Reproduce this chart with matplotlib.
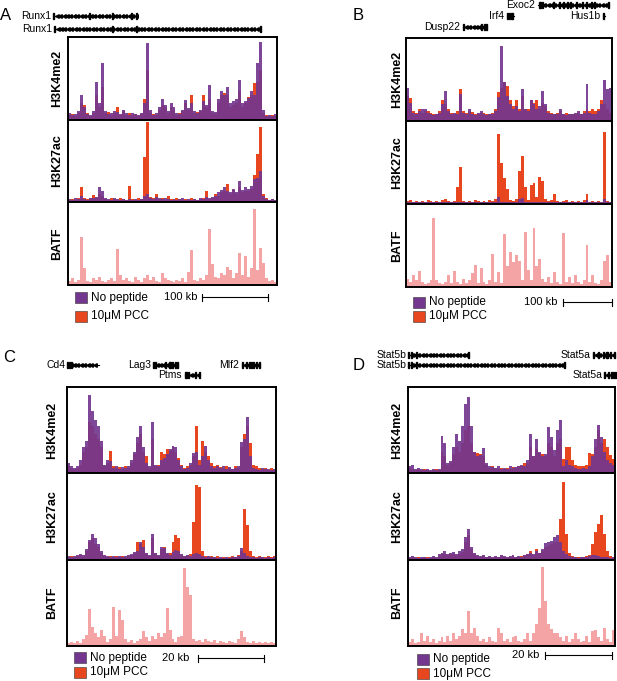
import numpy as np
import matplotlib
matplotlib.use("Agg")
import matplotlib.pyplot as plt
from matplotlib.patches import Rectangle

plt.rcParams['font.family'] = ['Liberation Sans', 'DejaVu Sans']

# ---- colores ----
MORADO = "#74378f"
ROJO = "#e8461e"
ROSA = "#f4a4a4"

# ---- datos (% de la altura de cada pista, 70 bins por region) ----
# Panel A (Runx1)
a_k4_np = [8, 6, 7, 10, 30, 15, 7, 6, 10, 45, 20, 68, 10, 7, 8, 10, 9, 7, 12, 8, 6, 8, 7, 6, 8, 20, 93, 12, 6, 8,
           15, 25, 18, 10, 20, 15, 8, 7, 12, 24, 14, 20, 10, 8, 12, 22, 18, 42, 10, 9, 25, 35, 30, 40, 20, 22, 25, 48, 20, 22,
           26, 35, 30, 68, 94, 12, 5, 6, 5, 7]
a_k4_pcc = [6, 7, 5, 8, 20, 18, 8, 5, 8, 30, 15, 40, 8, 9, 6, 8, 15, 6, 10, 6, 8, 6, 7, 5, 7, 25, 60, 8, 7, 6,
            12, 18, 15, 8, 15, 12, 6, 8, 10, 20, 12, 30, 8, 9, 10, 30, 15, 25, 8, 7, 20, 30, 32, 30, 15, 18, 20, 35, 15, 20,
            28, 30, 44, 45, 60, 8, 6, 4, 6, 5]
a_k27_np = [4, 3, 5, 4, 8, 4, 3, 5, 5, 6, 18, 14, 5, 4, 3, 5, 4, 3, 4, 3, 4, 3, 4, 3, 4, 8, 10, 5, 4, 6,
            5, 4, 5, 4, 3, 4, 3, 4, 5, 3, 4, 3, 4, 3, 5, 4, 6, 5, 6, 8, 12, 15, 18, 14, 12, 16, 12, 26, 15, 18,
            16, 20, 28, 30, 38, 8, 4, 3, 4, 3]
a_k27_pcc = [3, 4, 3, 5, 18, 5, 4, 5, 9, 5, 10, 8, 4, 3, 5, 4, 3, 5, 4, 3, 20, 4, 3, 5, 4, 55, 97, 6, 5, 10,
             4, 5, 3, 8, 4, 3, 5, 4, 3, 4, 3, 5, 4, 3, 4, 5, 14, 4, 5, 10, 8, 12, 14, 22, 10, 15, 10, 18, 12, 14,
             14, 16, 33, 58, 91, 10, 5, 3, 4, 3]
a_batf = [5, 8, 4, 6, 58, 20, 5, 4, 8, 6, 10, 5, 4, 6, 8, 5, 43, 12, 6, 8, 5, 4, 10, 6, 4, 8, 12, 6, 10, 5,
          4, 14, 8, 6, 5, 4, 6, 5, 8, 4, 16, 42, 6, 5, 8, 6, 12, 68, 25, 10, 8, 14, 12, 22, 18, 8, 15, 39, 12, 35,
          10, 20, 92, 18, 45, 27, 8, 5, 6, 4]

# Panel B (Irf4)
b_k4_np = [40, 22, 10, 8, 12, 15, 14, 10, 8, 7, 9, 10, 20, 36, 12, 8, 10, 9, 33, 10, 8, 15, 9, 7, 10, 12, 8, 7, 9, 8,
           12, 29, 90, 47, 30, 20, 15, 18, 12, 39, 15, 12, 25, 20, 14, 18, 36, 20, 10, 8, 9, 8, 15, 8, 7, 9, 8, 10, 12, 8,
           10, 45, 10, 8, 9, 12, 20, 50, 38, 40]
b_k4_pcc = [30, 28, 12, 10, 14, 10, 12, 12, 10, 9, 8, 12, 25, 20, 14, 10, 8, 12, 39, 12, 10, 12, 11, 9, 8, 10, 10, 9, 8, 10,
            14, 35, 40, 47, 42, 25, 18, 25, 14, 30, 15, 14, 25, 22, 25, 15, 22, 18, 12, 10, 9, 10, 12, 9, 10, 8, 9, 8, 10, 9,
            12, 14, 12, 15, 12, 15, 25, 20, 15, 10]
b_k27_np = [3, 2, 3, 2, 3, 2, 3, 3, 2, 3, 2, 3, 2, 3, 3, 2, 3, 2, 3, 2, 3, 2, 3, 3, 2, 3, 2, 3, 2, 3,
            3, 8, 3, 2, 3, 2, 3, 2, 6, 7, 3, 2, 3, 2, 3, 3, 2, 3, 2, 3, 2, 3, 2, 3, 3, 2, 3, 2, 3, 2,
            3, 5, 2, 3, 2, 3, 2, 6, 2, 3]
b_k27_pcc = [4, 5, 3, 4, 3, 4, 3, 5, 4, 3, 4, 3, 5, 6, 4, 3, 4, 20, 44, 4, 3, 4, 3, 5, 4, 3, 4, 3, 5, 4,
             6, 84, 50, 31, 18, 5, 4, 6, 40, 58, 20, 5, 23, 25, 8, 33, 28, 6, 4, 5, 12, 4, 3, 4, 5, 3, 4, 3, 4, 3,
             5, 12, 3, 4, 3, 4, 3, 87, 4, 3]
b_batf = [10, 6, 15, 8, 19, 6, 4, 5, 8, 83, 8, 5, 4, 6, 15, 5, 19, 6, 4, 10, 5, 8, 17, 26, 5, 23, 6, 4, 8, 40,
          6, 18, 5, 64, 25, 42, 30, 39, 31, 8, 66, 20, 8, 71, 25, 34, 10, 6, 12, 5, 18, 6, 4, 65, 6, 12, 5, 15, 6, 4,
          8, 50, 6, 15, 5, 4, 8, 31, 39, 6]

# Panel C (Cd4 / Lag3)
c_k4_np = [12, 8, 6, 8, 15, 30, 38, 91, 72, 62, 55, 38, 10, 15, 14, 6, 8, 5, 7, 6, 8, 15, 25, 42, 55, 30, 12, 8, 59, 10,
           8, 15, 18, 22, 28, 32, 30, 15, 8, 5, 6, 12, 24, 25, 10, 20, 32, 15, 8, 6, 8, 6, 8, 5, 7, 5, 6, 8, 36, 40,
           65, 20, 6, 5, 4, 6, 5, 5, 4, 5]
c_k4_pcc = [8, 6, 5, 6, 10, 25, 30, 60, 55, 45, 40, 30, 8, 12, 26, 8, 6, 7, 5, 8, 6, 12, 22, 35, 45, 25, 20, 6, 40, 8,
            10, 25, 22, 28, 26, 30, 25, 18, 10, 6, 8, 10, 20, 55, 15, 38, 25, 20, 12, 8, 10, 7, 6, 8, 6, 5, 8, 6, 30, 45,
            55, 35, 10, 8, 6, 5, 6, 4, 6, 4]
c_k27_np = [4, 3, 4, 5, 6, 5, 12, 23, 30, 25, 18, 10, 5, 4, 3, 4, 3, 4, 3, 4, 5, 6, 9, 10, 21, 15, 8, 5, 30, 8,
            5, 15, 14, 8, 5, 9, 11, 10, 6, 4, 5, 4, 6, 8, 6, 4, 3, 4, 3, 3, 2, 3, 2, 3, 2, 3, 3, 4, 13, 8,
            4, 3, 3, 2, 3, 3, 2, 3, 2, 3]
c_k27_pcc = [3, 4, 3, 4, 5, 4, 10, 20, 25, 18, 15, 8, 4, 3, 4, 3, 4, 3, 4, 3, 4, 5, 8, 21, 18, 23, 6, 4, 25, 6,
             4, 12, 15, 6, 8, 20, 29, 25, 5, 4, 5, 6, 44, 87, 84, 10, 4, 3, 4, 3, 4, 2, 3, 2, 3, 4, 3, 5, 10, 59,
             40, 10, 4, 3, 4, 3, 3, 4, 3, 4]
c_batf = [4, 5, 3, 6, 4, 8, 13, 43, 22, 15, 10, 18, 12, 5, 8, 45, 12, 42, 30, 8, 5, 7, 4, 6, 8, 17, 10, 6, 12, 8,
          15, 10, 15, 44, 18, 8, 5, 10, 12, 90, 68, 59, 8, 6, 7, 5, 8, 6, 5, 7, 4, 6, 5, 4, 6, 5, 4, 8, 17, 10,
          5, 4, 6, 4, 5, 3, 5, 4, 5, 3]

# Panel D (Stat5b / Stat5a)
d_k4_np = [8, 10, 5, 6, 5, 4, 5, 4, 5, 4, 5, 43, 35, 12, 14, 30, 46, 37, 55, 80, 88, 55, 25, 20, 21, 29, 12, 8, 7, 6,
           8, 5, 6, 5, 8, 6, 7, 8, 10, 8, 15, 46, 20, 40, 25, 20, 22, 54, 42, 27, 50, 62, 8, 15, 10, 8, 6, 5, 5, 6,
           5, 8, 20, 40, 56, 42, 25, 15, 12, 10]
d_k4_pcc = [6, 5, 4, 5, 4, 5, 4, 3, 4, 5, 4, 25, 20, 10, 12, 22, 30, 25, 35, 50, 55, 35, 25, 24, 22, 20, 10, 6, 8, 6,
            5, 6, 5, 6, 5, 7, 6, 8, 9, 12, 12, 30, 20, 28, 23, 22, 20, 35, 30, 20, 35, 40, 17, 31, 31, 15, 10, 8, 9, 8,
            10, 23, 22, 30, 50, 35, 40, 31, 21, 17]
d_k27_np = [3, 4, 3, 2, 3, 3, 2, 3, 4, 3, 6, 8, 10, 7, 8, 9, 7, 10, 12, 26, 35, 15, 8, 5, 4, 5, 3, 4, 3, 4,
            3, 5, 4, 3, 4, 5, 3, 4, 3, 5, 6, 8, 6, 10, 8, 12, 19, 20, 22, 26, 28, 20, 10, 6, 4, 3, 3, 2, 3, 3,
            3, 4, 5, 5, 4, 3, 3, 3, 2, 3]
d_k27_pcc = [2, 3, 2, 3, 2, 3, 3, 2, 3, 2, 4, 6, 7, 5, 6, 6, 5, 7, 9, 20, 28, 12, 6, 4, 3, 4, 3, 3, 2, 3,
             3, 4, 3, 3, 3, 4, 3, 3, 4, 5, 6, 10, 5, 12, 8, 10, 15, 16, 18, 20, 20, 47, 90, 30, 8, 4, 3, 3, 3, 3,
             4, 5, 18, 32, 41, 52, 30, 10, 4, 3]
d_batf = [5, 8, 4, 5, 15, 6, 12, 5, 8, 4, 6, 10, 5, 12, 6, 15, 8, 12, 20, 15, 40, 15, 21, 12, 6, 8, 5, 10, 6, 5,
          21, 15, 6, 8, 5, 10, 12, 6, 5, 8, 15, 6, 15, 25, 44, 92, 52, 25, 20, 15, 15, 10, 6, 12, 5, 8, 15, 8, 5, 6,
          12, 5, 17, 19, 10, 6, 21, 8, 5, 19]

# ---- genes: (nombre, inicio, fin, fila, exones) en unidades de bin ----
genes_a = [("Runx1", -4.7, 23.1, 0, [-4.7, 7.1, 15.0, 21.3, 23.1]),
           ("Runx1", -4.4, 64.6, 1, [-4.4, 15.0, 23.0, 64.6])]
genes_b = [("Exoc2", 44.9, 68.7, 0, [45.2, 45.8, 46.4, 50, 52, 53.5, 55, 56, 58, 60, 61.5, 63, 64, 68.7]),
           ("Irf4", 34.3, 36.7, 1, [34.5, 35.1, 35.7, 36.3]),
           ("Hus1b", 66.9, 67.6, 1, [67.2]),
           ("Dusp22", 19.4, 27.5, 2, [19.4, 25.8, 26.6, 27.3])]
genes_c = [("Cd4", 0.3, 10.7, 0, [0.3, 1.0, 1.4]),
           ("Lag3", 29.1, 37.2, 0, [29.1, 29.6, 33.0, 34.5, 35.3, 36.2, 37.0]),
           ("Ptms", 39.4, 44.4, 1, [39.6, 40.1, 40.6, 43.2, 44.3]),
           ("Mlf2", 58.6, 64.6, 0, [58.8, 60.2, 61.0, 61.8, 62.6, 63.4, 64.4])]
genes_d = [("Stat5b", 0.3, 20.6, 0, [0.3, 1.2, 3.0, 20.6]),
           ("Stat5b", 0.3, 52.8, 1, [0.3, 1.2, 3.0, 52.8]),
           ("Stat5a", 62.6, 70.0, 0, [62.6, 64.5, 66.0, 67.0, 67.6, 68.5, 69.9]),
           ("Stat5a", 66.5, 70.3, 2, [66.5, 67.8, 68.8, 69.4, 70.2])]

W, H = 617, 681
fig = plt.figure(figsize=(W / 100, H / 100), dpi=100)


def ejes_px(x0, y0, x1, y1):
    return fig.add_axes([x0 / W, 1 - y1 / H, (x1 - x0) / W, (y1 - y0) / H])


fondo = ejes_px(0, 0, W, H)
fondo.set_xlim(0, W)
fondo.set_ylim(H, 0)
fondo.axis('off')


def dibujar_gen(ax, nombre, ini, fin, y, exones):
    ax.plot([ini, fin], [y, y], color='k', lw=0.8, clip_on=False)
    marcas = np.arange(ini + 0.9, fin - 0.4, 1.15)
    ax.plot(marcas, [y] * len(marcas), ls='none', marker='<', ms=2.6, color='k', clip_on=False)
    for ex in exones:
        ax.add_patch(Rectangle((ex - 0.17, y - 3.2), 0.34, 6.4, color='k', clip_on=False))
    ax.text(ini - 0.9, y, nombre, ha='right', va='center', fontsize=7.5)


def panel(letra, letra_xy, caja, etiqueta_x, pistas, genes, filas_y, gen_top,
          leyenda, escala):
    x0, y0, x1, y1 = caja
    n = len(pistas[0][0])
    alto = (y1 - y0) / 3
    nombres = ["H3K4me2", "H3K27ac", "BATF"]
    for i, (series, nombre) in enumerate(zip(pistas, nombres)):
        ax = ejes_px(x0, y0 + i * alto, x1, y0 + (i + 1) * alto)
        x = np.arange(n)
        if len(series) == 2:
            ax.bar(x, series[1], width=1.0, align='edge', color=ROJO, linewidth=0)
            ax.bar(x, series[0], width=1.0, align='edge', color=MORADO, alpha=0.92, linewidth=0)
        else:
            ax.bar(x, series[0], width=1.0, align='edge', color=ROSA, linewidth=0)
        ax.set_xlim(0, n)
        ax.set_ylim(0, 100)
        ax.set_xticks([])
        ax.set_yticks([])
        for s in ax.spines.values():
            s.set_linewidth(1.4)
        fondo.text(etiqueta_x, y0 + (i + 0.5) * alto, nombre, rotation=90, ha='center', va='center',
                   fontsize=9, fontweight='bold')

    # genes
    axg = ejes_px(x0, gen_top, x1, y0)
    axg.set_xlim(0, n)
    axg.set_ylim(y0, gen_top)
    axg.axis('off')
    for nombre, ini, fin, fila, exones in genes:
        dibujar_gen(axg, nombre, ini, fin, filas_y[fila], exones)

    fondo.text(letra_xy[0], letra_xy[1], letra, fontsize=12, ha='center', va='center')

    # leyenda
    lx, ly1, ly2 = leyenda
    for yy, col, txt in [(ly1, MORADO, "No peptide"), (ly2, ROJO, "10\u03bcM PCC")]:
        fondo.add_patch(Rectangle((lx, yy - 5.5), 12, 11, facecolor=col, edgecolor='#333333', lw=0.4))
        fondo.text(lx + 16, yy, txt, fontsize=8.5, va='center', ha='left')

    # barra de escala
    tx, bx0, bx1, by, etiqueta = escala
    fondo.text(tx, by, etiqueta, fontsize=8, ha='right', va='center')
    fondo.plot([bx0, bx1], [by, by], color='k', lw=0.8)
    fondo.plot([bx0, bx0], [by - 3.5, by + 3.5], color='k', lw=0.8)
    fondo.plot([bx1, bx1], [by - 3.5, by + 3.5], color='k', lw=0.8)


panel("A", (6, 15), (68, 37, 277, 285), 57.5,
      [(a_k4_np, a_k4_pcc), (a_k27_np, a_k27_pcc), (a_batf,)],
      genes_a, [16, 29], 0, (75, 297.5, 316), (197, 202, 268, 297, "100 kb"))
panel("B", (358, 15), (406, 38, 612, 287), 397,
      [(b_k4_np, b_k4_pcc), (b_k27_np, b_k27_pcc), (b_batf,)],
      genes_b, [5, 16, 27], 0, (413, 302, 316.5), (557, 563, 612, 302, "100 kb"))
panel("C", (9, 357), (67, 387, 276, 646), 52,
      [(c_k4_np, c_k4_pcc), (c_k27_np, c_k27_pcc), (c_batf,)],
      genes_c, [365, 375], 340, (74, 657.5, 672.5), (189, 198, 264, 658, "20 kb"))
panel("D", (359, 365), (408, 387, 615, 646), 397,
      [(d_k4_np, d_k4_pcc), (d_k27_np, d_k27_pcc), (d_batf,)],
      genes_d, [355, 365, 375], 340, (417, 659, 673.5), (539, 545, 612, 655, "20 kb"))

fig.savefig("out.png", dpi=100)
